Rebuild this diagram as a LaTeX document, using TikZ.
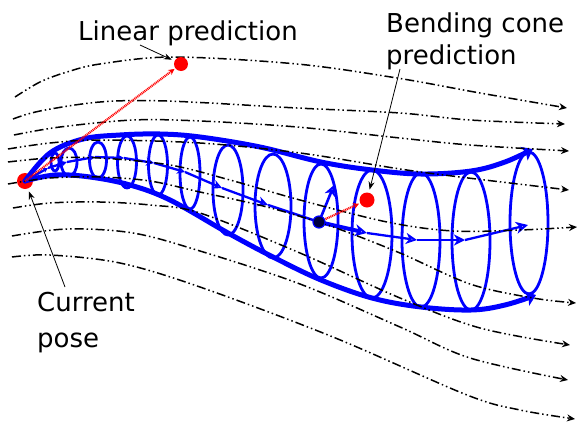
\documentclass[tikz,border=0pt]{standalone}
\usepackage{fontspec}
\setmainfont{DejaVu Sans}
\usetikzlibrary{arrows.meta}
\begin{document}
\begin{tikzpicture}[x=1pt,y=-1pt,
 stream/.style={line width=1.5pt, dash pattern=on 9pt off 3pt on 1.5pt off 3pt on 1.5pt off 3pt, -{Stealth[length=8pt,width=7pt]}},
 ring/.style={draw=blue, line width=2.8pt},
 wall/.style={draw=blue, line width=5pt, line cap=round, -{Stealth[length=10pt,width=15pt,inset=2pt]}},
 axis/.style={draw=blue, line width=2.3pt, -{Stealth[open,length=#1,width=#1,inset=0.3*#1]}},
 reddot/.style={circle, fill=red, inner sep=0pt, minimum size=#1},
 redline/.style={draw=red, line width=2.2pt, dash pattern=on 1pt off 0.8pt, shorten >=1pt, -{Stealth[length=6pt,width=6pt]}},
 txt/.style={font=\fontsize{26}{31}\selectfont, inner sep=0pt, anchor=base west},
 note/.style={draw=black, line width=0.8pt, shorten >=3pt, -{Stealth[length=8pt,width=6pt]}}
]
\useasboundingbox (0,0) rectangle (579,426);

% current pose
\node[reddot=16pt] (cp) at (25,181) {};

% tube walls
\draw[wall] plot[smooth, tension=0.6] coordinates {(25,181) (50,153) (83,139) (120,135) (160,134) (200,137) (260,147) (321,162) (372,170) (421,174) (471,171) (505,162) (533,149)};
\draw[wall] plot[smooth, tension=0.6] coordinates {(25,181) (55,175) (90,177) (130,185) (170,200) (228,233) (273,257) (321,280) (372,298) (421,307) (471,310) (505,305) (536,295)};

% cross-section rings
\foreach \cx/\cy/\rx/\ry in {55/162/4/9, 69/162/8/14, 98/160/8.5/18, 127/162/9.5/26, 158/165/9.5/30, 190/173/10/36, 228/190/15/45, 273/206/18/52, 321/221/17/57, 372/234/20/64, 421/240/19/67, 471/241/19/69, 529/223/19/71}
  \draw[ring] (\cx,\cy) ellipse [x radius=\rx pt, y radius=\ry pt];

% central axis
\coordinate (a0) at (25,181);
\coordinate (a1) at (48,168);
\coordinate (a2) at (67,162);
\coordinate (a3) at (95,157);
\coordinate (a4) at (124,158);
\coordinate (a5) at (154,163);
\coordinate (a6) at (185,172);
\coordinate (a7) at (222,188);
\coordinate (a8) at (268,205);
\coordinate (d) at (319,222);
\coordinate (a9) at (367,233);
\coordinate (a10) at (417,240);
\coordinate (a11) at (465,240);
\coordinate (a12) at (528,225);
\coordinate (up) at (334,185);
\draw[axis=5pt] (a0) -- (a1);
\draw[axis=6pt] (a1) -- (a2);
\draw[axis=7pt] (a2) -- (a3);
\draw[axis=7pt] (a3) -- (a4);
\draw[axis=8pt] (a4) -- (a5);
\draw[axis=8pt] (a5) -- (a6);
\draw[axis=9pt] (a6) -- (a7);
\draw[axis=10pt] (a7) -- (a8);
\draw[blue, line width=2.5pt] (a8) -- (d);
\draw[axis=12pt, line width=4pt] (d) -- (a9);
\draw[axis=11pt] (a9) -- (a10);
\draw[axis=11pt] (a10) -- (a11);
\draw[axis=12pt] (a11) -- (a12);
\draw[axis=11pt, line width=2.6pt] (d) -- (up);

% streamlines
\draw[stream] plot[smooth, tension=0.55] coordinates {(15,97) (40,82) (67,72) (100,64) (173,57) (297,64) (397,78) (480,93) (567,108)};
\draw[stream] plot[smooth, tension=0.55] coordinates {(13,119) (40,111) (100,102) (167,101) (297,108) (400,113) (470,120) (565,124)};
\draw[stream] plot[smooth, tension=0.55] coordinates {(14,135) (60,127) (133,120) (200,121) (297,127) (400,138) (470,145) (569,151)};
\draw[stream] plot[smooth, tension=0.55] coordinates {(8,149) (50,143) (100,140) (200,143) (300,153) (400,169) (460,177) (569,190)};
\draw[stream] plot[smooth, tension=0.55] coordinates {(8,162) (50,158) (100,158) (170,165) (230,180) (300,200) (387,222) (453,231) (520,230) (577,227)};
\draw[stream] plot[smooth, tension=0.55] coordinates {(8,184) (50,178) (100,177) (150,181) (200,192) (267,207) (333,227) (400,253) (470,284) (533,298) (576,303)};
\draw[stream] plot[smooth, tension=0.55] coordinates {(13,208) (50,203) (100,202) (150,205) (200,213) (300,253) (400,298) (480,328) (570,345)};
\draw[stream] plot[smooth, tension=0.55] coordinates {(12,236) (67,229) (133,233) (200,251) (300,284) (400,327) (470,358) (568,380)};
\draw[stream] plot[smooth, tension=0.55] coordinates {(12,257) (50,255) (120,263) (200,287) (333,337) (467,395) (520,410) (575,419)};

% predictions
\node[reddot=14pt] (lp) at (181,64) {};
\node[reddot=15pt] (bp) at (367,200) {};
\draw[redline] (a0) -- (lp);
\draw[redline] (d) -- (bp);
\node[circle, fill=black!75!blue, draw=blue, line width=1.2pt, inner sep=0pt, minimum size=12pt] (dd) at (d) {};

% labels
\node[txt] (tlin) at (78,40) {Linear prediction};
\node[txt] (tbend1) at (386,32) {Bending cone};
\node[txt] (tbend2) at (386,64) {prediction};
\node[txt] (tcur1) at (37,311) {Current};
\node[txt] (tcur2) at (37,347) {pose};
\coordinate (nlin) at (140,45);
\coordinate (nbend) at (400,69);
\coordinate (ncur) at (65,287);
\draw[note] (nlin) -- (lp);
\draw[note] (nbend) -- (bp);
\draw[note] (ncur) -- (cp);
\end{tikzpicture}
\end{document}
